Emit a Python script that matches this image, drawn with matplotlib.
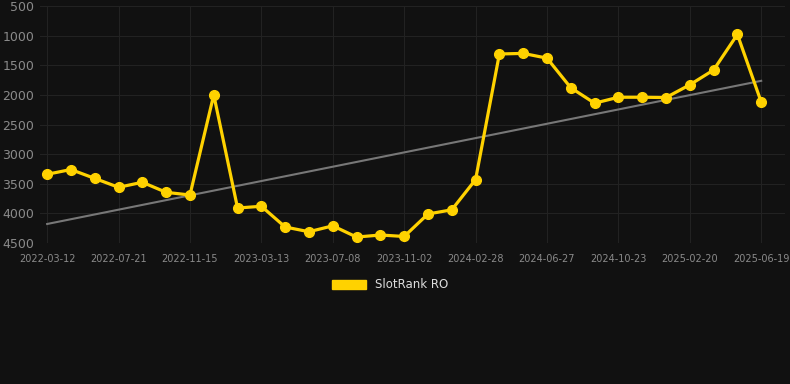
import matplotlib
matplotlib.use("Agg")
import matplotlib.pyplot as plt
from matplotlib.patches import Patch
import numpy as np

tick_labels = ["2022-03-12", "2022-07-21", "2022-11-15", "2023-03-13", "2023-07-08",
               "2023-11-02", "2024-02-28", "2024-06-27", "2024-10-23", "2025-02-20",
               "2025-06-19"]
ranks = [3340, 3260, 3410, 3560, 3475, 3645, 3690, 2000, 3910, 3880,
         4230, 4310, 4210, 4400, 4365, 4390, 4010, 3940, 3430, 1310,
         1300, 1380, 1880, 2140, 2040, 2040, 2045, 1830, 1580, 980, 2120]
series_name = "SlotRank RO"

bg = "#111111"
fig = plt.figure(figsize=(7.9, 3.84), dpi=100, facecolor=bg)
ax = fig.add_axes([40/790, 1-243/384, 745/790, 237/384], facecolor=bg)

x = np.arange(len(ranks))
y = np.array(ranks, dtype=float)
coef = np.polyfit(x, y, 1)
ax.plot([x[0], x[-1]], np.polyval(coef, [x[0], x[-1]]), color="#777777", lw=1.5, zorder=2)
ax.plot(x, y, color="#FFD200", lw=2.3, marker="o", ms=7, zorder=3)

ax.set_ylim(4500, 500)
ax.set_xlim(-0.3, 31.0)
ax.set_yticks(range(500, 4501, 500))
ax.set_xticks(x[::3])
ax.set_xticklabels(tick_labels)
ax.grid(True, color="#222222", lw=0.8)
for s in ax.spines.values():
    s.set_visible(False)
ax.tick_params(axis="y", colors="#8a8a8a", labelsize=9, length=0, pad=4)
ax.tick_params(axis="x", colors="#8a8a8a", labelsize=7, length=0, pad=8)

leg = fig.legend(handles=[Patch(color="#FFD200", label=series_name)],
                 loc="center", bbox_to_anchor=(390/790, 1-285/384), frameon=False,
                 handlelength=2.9, handleheight=0.9, fontsize=8.5, labelcolor="#dddddd")
fig.savefig("out.png", dpi=100, facecolor=bg)
